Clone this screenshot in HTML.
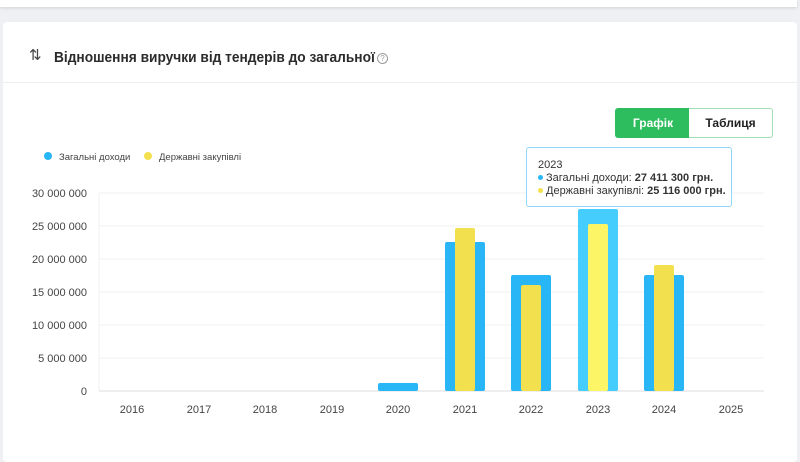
<!DOCTYPE html><html><head><meta charset="utf-8"><style>
body{margin:0;width:800px;height:451px;background:#eef0f4;font-family:"Liberation Sans",sans-serif;position:relative;overflow:hidden}
.top{position:absolute;left:0;top:0;width:797px;height:7px;background:#fff;box-shadow:0 1px 3px rgba(0,0,0,.12)}
.card{position:absolute;left:3px;top:22px;width:794px;height:440px;background:#fff;border-radius:4px}
.hd{position:absolute;left:0;top:0;width:794px;height:60px;border-bottom:1px solid #eceef1}
.t{position:absolute;left:51px;top:27px;font-size:15px;font-weight:bold;color:#2b2b2b;white-space:nowrap;transform:scaleX(0.915);transform-origin:0 0}
.ic{position:absolute;left:26px;top:24px;font-size:15px;color:#444}
.btn{position:absolute;top:108px;height:28px;font-size:12px;font-weight:bold;text-align:center;line-height:28px}
.tt{position:absolute;left:526px;top:147px;width:206px;height:60px;border:1px solid #8fd6fa;border-radius:3px;background:#fff;font-size:11px;color:#333;line-height:13px;box-sizing:border-box;padding:11px 0 0 11px}
.d{display:inline-block;width:5px;height:5px;border-radius:50%;margin-right:3px;vertical-align:1px}
</style></head><body>
<div class="top"></div>
<div class="card"><div class="hd"><span class="ic">⇅</span><span class="t">Відношення виручки від тендерів до загальної</span><span style="position:absolute;left:374px;top:31px;width:9px;height:9px;border:1px solid #999;border-radius:50%;font-size:8px;line-height:9px;text-align:center;color:#999">?</span></div></div>
<div class="btn" style="left:615px;width:74px;background:#2dbd5e;color:#fff;border-radius:3px 0 0 3px;border:1px solid #2dbd5e">Графік</div>
<div class="btn" style="left:689px;width:83px;background:#fff;color:#222;border:1px solid #9fe0b5;border-left:none;border-radius:0 3px 3px 0">Таблиця</div>
<svg width="800" height="451" style="position:absolute;left:0;top:0" font-family="Liberation Sans" font-size="11">
<circle cx="48" cy="156" r="4" fill="#29b6f6"/><text x="59" y="160" fill="#444" font-size="9.5">Загальні доходи</text>
<circle cx="148" cy="156" r="4" fill="#f3e04f"/><text x="159" y="160" fill="#444" font-size="9.5">Державні закупівлі</text>
<g stroke="#f0f0f0"><line x1="99" x2="764" y1="193" y2="193"/><line x1="99" x2="764" y1="226" y2="226"/><line x1="99" x2="764" y1="259" y2="259"/><line x1="99" x2="764" y1="292" y2="292"/><line x1="99" x2="764" y1="325" y2="325"/><line x1="99" x2="764" y1="358" y2="358"/><line x1="99" x2="99" y1="193" y2="391"/></g>
<line x1="99" x2="764" y1="391" y2="391" stroke="#ddd"/>
<g fill="#444" text-anchor="end"><text x="87" y="197">30 000 000</text><text x="87" y="230">25 000 000</text><text x="87" y="263">20 000 000</text><text x="87" y="296">15 000 000</text><text x="87" y="329">10 000 000</text><text x="87" y="362">5 000 000</text><text x="87" y="395">0</text></g>
<g fill="#444" text-anchor="middle"><text x="132" y="413">2016</text><text x="199" y="413">2017</text><text x="265" y="413">2018</text><text x="332" y="413">2019</text><text x="398" y="413">2020</text><text x="465" y="413">2021</text><text x="531" y="413">2022</text><text x="598" y="413">2023</text><text x="664" y="413">2024</text><text x="731" y="413">2025</text></g>
<g fill="#29b6f6"><rect x="378" y="383" width="40" height="8" rx="2"/><rect x="445" y="242" width="40" height="149" rx="2"/><rect x="511" y="275" width="40" height="116" rx="2"/><rect x="644" y="275" width="40" height="116" rx="2"/></g>
<rect x="578" y="209" width="40" height="182" rx="2" fill="#45cdfd"/>
<g fill="#f3e04f"><rect x="455" y="228" width="20" height="163" rx="2"/><rect x="521" y="285" width="20" height="106" rx="2"/><rect x="654" y="265" width="20" height="126" rx="2"/></g>
<rect x="588" y="224" width="20" height="167" rx="2" fill="#fcf565"/>
</svg>
<div class="tt">2023<br><span class="d" style="background:#29b6f6"></span>Загальні доходи: <b>27 411 300 грн.</b><br><span class="d" style="background:#f3e04f"></span>Державні закупівлі: <b>25 116 000 грн.</b></div>
</body></html>
